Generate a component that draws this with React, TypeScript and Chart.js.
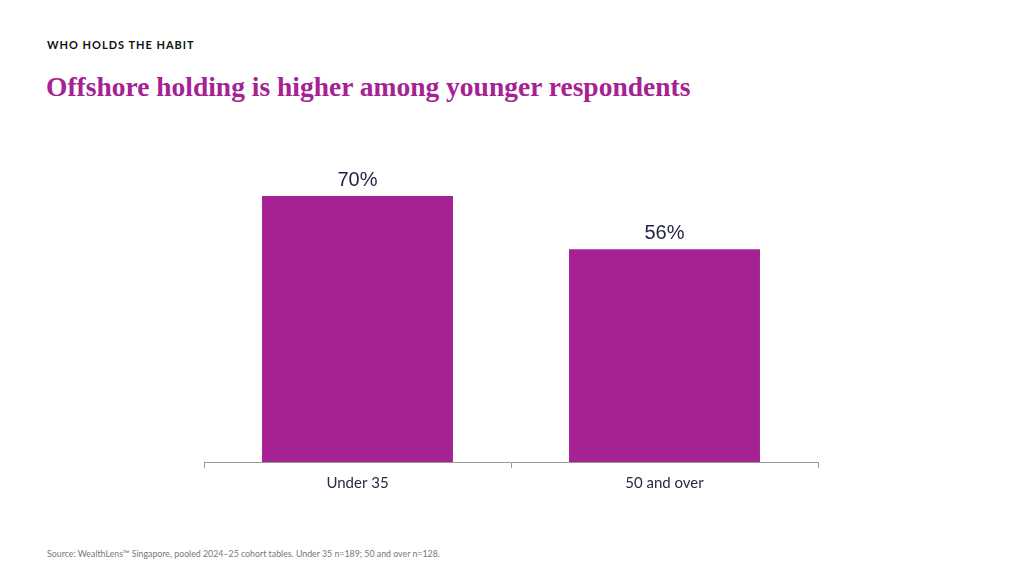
import React, { useEffect, useRef } from 'react';
import Chart from 'chart.js/auto';

const categories = ['Under 35', '50 and over'];
const shareHolding = [70, 56];

const PURPLE = '#A62293';
const NAVY = '#1F2344';

const valueLabels = {
    id: 'valueLabels',
    afterDatasetsDraw(chart: any) {
        const ctx = chart.ctx;
        const meta = chart.getDatasetMeta(0);
        ctx.save();
        ctx.font = '20px "Liberation Sans", Arial, sans-serif';
        ctx.fillStyle = NAVY;
        ctx.textAlign = 'center';
        ctx.textBaseline = 'bottom';
        meta.data.forEach((bar: any, i: number) => {
            ctx.fillText(shareHolding[i] + '%', bar.x, bar.y - 6);
        });
        ctx.restore();
    }
};

const App: React.FC = () => {
    const chartRef = useRef<HTMLCanvasElement>(null);
    const chartInstanceRef = useRef<Chart | null>(null);

    useEffect(() => {
        document.body.style.margin = '0';
        if (!chartRef.current) return;
        const ctx = chartRef.current.getContext('2d');
        if (!ctx) return;
        chartInstanceRef.current = new Chart(ctx, {
            type: 'bar',
            data: {
                labels: categories,
                datasets: [{
                    data: shareHolding,
                    backgroundColor: PURPLE,
                    borderWidth: 0,
                    barPercentage: 1,
                    categoryPercentage: 0.622
                }]
            },
            options: {
                animation: false,
                responsive: true,
                maintainAspectRatio: false,
                layout: { padding: { left: 20, right: 20, top: 38, bottom: 0 } },
                plugins: {
                    legend: { display: false },
                    tooltip: { enabled: false }
                },
                scales: {
                    x: {
                        grid: {
                            offset: true,
                            drawOnChartArea: false,
                            drawTicks: true,
                            tickLength: 6,
                            color: '#999999'
                        },
                        border: { display: true, color: '#999999' },
                        ticks: {
                            color: '#2A2A44',
                            padding: 6,
                            font: { family: 'Lato, "Open Sans", sans-serif', size: 15 }
                        }
                    },
                    y: { display: false, min: 0, max: 80 }
                }
            },
            plugins: [valueLabels]
        });
        return () => {
            if (chartInstanceRef.current) {
                chartInstanceRef.current.destroy();
                chartInstanceRef.current = null;
            }
        };
    }, []);

    return (
        <div style={{ position: 'relative', width: 1024, height: 576, background: '#fff', overflow: 'hidden' }}>
            <div style={{
                position: 'absolute', left: 47, top: 38, fontFamily: 'Lato, "Open Sans", sans-serif',
                fontWeight: 700, fontSize: 11, letterSpacing: 1, color: '#111'
            }}>
                WHO HOLDS THE HABIT
            </div>
            <div style={{
                position: 'absolute', left: 46, top: 71, fontFamily: '"Liberation Serif", serif',
                fontWeight: 700, fontSize: 27.5, color: PURPLE
            }}>
                Offshore holding is higher among younger respondents
            </div>
            <div style={{ position: 'absolute', left: 184, top: 120, width: 654, height: 378 }}>
                <canvas ref={chartRef}></canvas>
            </div>
            <div style={{
                position: 'absolute', left: 47, top: 548, fontFamily: 'Lato, "Open Sans", sans-serif',
                fontSize: 8.8, color: '#777'
            }}>
                Source: WealthLens™ Singapore, pooled 2024–25 cohort tables. Under 35 n=189; 50 and over n=128.
            </div>
        </div>
    );
};
export default App;
